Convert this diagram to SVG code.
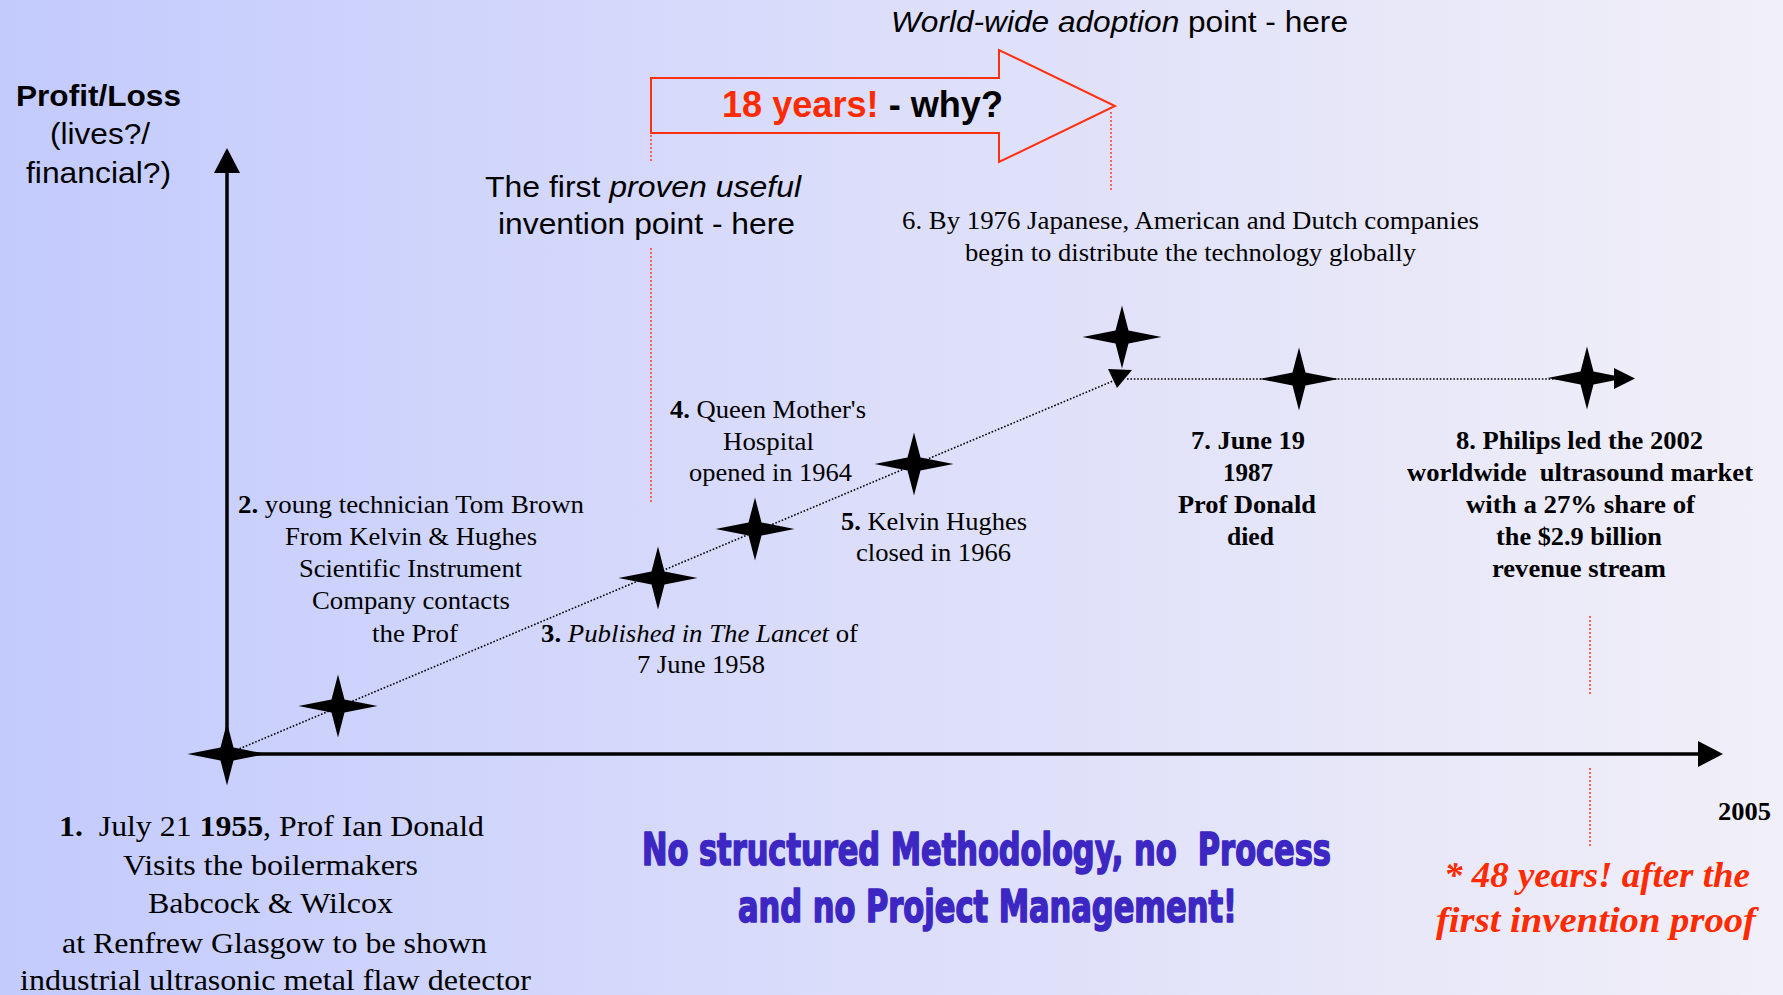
<svg xmlns="http://www.w3.org/2000/svg" width="1783" height="995" viewBox="0 0 1783 995">
  <defs>
    <linearGradient id="bg" x1="0" y1="0" x2="1" y2="0">
      <stop offset="0" stop-color="#c3cbfd"/>
      <stop offset="0.5" stop-color="#dcdefa"/>
      <stop offset="1" stop-color="#f1eff8"/>
    </linearGradient>
    <polygon id="star" points="0,-31.5 6.5,-6.5 39.5,0 6.5,6.5 0,31.5 -6.5,6.5 -39.5,0 -6.5,-6.5"/>
  </defs>
  <style>
    .sans { font-family: "Liberation Sans", Arial, sans-serif; fill: #000; }
    .serif { font-family: "Liberation Serif", "Times New Roman", serif; fill: #000; }
    .impact { font-family: "DejaVu Sans Condensed", "DejaVu Sans", sans-serif; font-weight: bold; fill: #3d27c3; stroke: #3d27c3; stroke-width: 1.6; stroke-linejoin: round; }
    .b { font-weight: bold; }
    .i { font-style: italic; }
    .red { fill: #ff2a00; }
    .s25 { font-size: 25px; }
    .s30 { font-size: 30px; }
    .axis { stroke: #000; stroke-width: 3.5; fill: none; }
    .dots { stroke: #000; stroke-width: 1.6; stroke-dasharray: 1.6 1.8; fill: none; }
    .guide { stroke: #ff3b1f; stroke-width: 1.5; stroke-dasharray: 2 2; fill: none; }
  </style>

  <rect width="1783" height="995" fill="url(#bg)"/>

  <!-- axes -->
  <g id="axes">
    <line class="axis" x1="227" y1="754" x2="227" y2="170"/>
    <polygon points="214,173 227,148 240,173" fill="#000"/>
    <line class="axis" x1="227" y1="754" x2="1700" y2="754"/>
    <polygon points="1698,741 1723,754 1698,767" fill="#000"/>
    <text class="sans b" font-size="29" x="16" y="106" textLength="165" lengthAdjust="spacingAndGlyphs">Profit/Loss</text>
    <text class="sans" font-size="29" x="50" y="144" textLength="100" lengthAdjust="spacingAndGlyphs">(lives?/</text>
    <text class="sans" font-size="29" x="26" y="183" textLength="145" lengthAdjust="spacingAndGlyphs">financial?)</text>
    <text class="serif b s25" x="1718" y="820" textLength="53" lengthAdjust="spacingAndGlyphs">2005</text>
  </g>

  <!-- connectors -->
  <g id="connectors">
    <line class="dots" x1="227" y1="754" x2="1113" y2="381"/>
    <polygon points="1108,369 1132,370 1117,388" fill="#000"/>
    <line class="dots" x1="1127" y1="379" x2="1614" y2="379"/>
    <polygon points="1614,368 1635,378.5 1614,389" fill="#000"/>
    <line class="guide" x1="651" y1="135" x2="651" y2="162"/>
    <line class="guide" x1="651" y1="248" x2="651" y2="503"/>
    <line class="guide" x1="1111" y1="112" x2="1111" y2="192"/>
    <line class="guide" x1="1590" y1="616" x2="1590" y2="695"/>
    <line class="guide" x1="1590" y1="768" x2="1590" y2="847"/>
  </g>

  <!-- 18-year gap arrow -->
  <g id="gap-arrow">
    <polygon points="651,78 999,78 999,50 1115,106 999,162 999,133 651,133" fill="none" stroke="#ff3010" stroke-width="2"/>
    <text class="sans b" font-size="36" x="722" y="117" textLength="281" lengthAdjust="spacingAndGlyphs"><tspan class="red">18 years!</tspan> - why?</text>
  </g>

  <g id="adoption-note">
    <text class="sans" font-size="29" x="891" y="32" textLength="457" lengthAdjust="spacingAndGlyphs"><tspan class="i">World-wide adoption</tspan> point - here</text>
  </g>

  <g id="invention-note">
    <text class="sans" font-size="30" x="485" y="197" textLength="316" lengthAdjust="spacingAndGlyphs">The first <tspan class="i">proven useful</tspan></text>
    <text class="sans" font-size="30" x="498" y="234" textLength="297" lengthAdjust="spacingAndGlyphs">invention point - here</text>
  </g>

  <!-- events -->
  <g id="event-1">
    <use href="#star" x="227" y="754"/>
    <text class="serif s30" x="59" y="836" textLength="425" lengthAdjust="spacingAndGlyphs"><tspan class="b">1.</tspan>&#160; July 21 <tspan class="b">1955</tspan>, Prof Ian Donald</text>
    <text class="serif s30" x="123" y="875" textLength="295" lengthAdjust="spacingAndGlyphs">Visits the boilermakers</text>
    <text class="serif s30" x="148" y="913" textLength="245" lengthAdjust="spacingAndGlyphs">Babcock &amp; Wilcox</text>
    <text class="serif s30" x="62" y="953" textLength="425" lengthAdjust="spacingAndGlyphs">at Renfrew Glasgow to be shown</text>
    <text class="serif s30" x="20" y="990" textLength="511" lengthAdjust="spacingAndGlyphs">industrial ultrasonic metal flaw detector</text>
  </g>

  <g id="event-2">
    <use href="#star" x="338" y="706"/>
    <text class="serif s25" x="238" y="513" textLength="346" lengthAdjust="spacingAndGlyphs"><tspan class="b">2.</tspan> young technician Tom Brown</text>
    <text class="serif s25" x="285" y="545" textLength="252" lengthAdjust="spacingAndGlyphs">From Kelvin &amp; Hughes</text>
    <text class="serif s25" x="299" y="577" textLength="223" lengthAdjust="spacingAndGlyphs">Scientific Instrument</text>
    <text class="serif s25" x="312" y="609" textLength="198" lengthAdjust="spacingAndGlyphs">Company contacts</text>
    <text class="serif s25" x="372" y="642" textLength="86" lengthAdjust="spacingAndGlyphs">the Prof</text>
  </g>

  <g id="event-3">
    <use href="#star" x="658" y="578"/>
    <text class="serif s25" x="541" y="642" textLength="317" lengthAdjust="spacingAndGlyphs"><tspan class="b">3.</tspan> <tspan class="i">Published in The Lancet</tspan> of</text>
    <text class="serif s25" x="637" y="673" textLength="128" lengthAdjust="spacingAndGlyphs">7 June 1958</text>
  </g>

  <g id="event-4">
    <use href="#star" x="755" y="529"/>
    <text class="serif s25" x="670" y="418" textLength="196" lengthAdjust="spacingAndGlyphs"><tspan class="b">4.</tspan> Queen Mother's</text>
    <text class="serif s25" x="723" y="450" textLength="91" lengthAdjust="spacingAndGlyphs">Hospital</text>
    <text class="serif s25" x="689" y="481" textLength="163" lengthAdjust="spacingAndGlyphs">opened in 1964</text>
  </g>

  <g id="event-5">
    <use href="#star" x="914" y="464"/>
    <text class="serif s25" x="841" y="530" textLength="186" lengthAdjust="spacingAndGlyphs"><tspan class="b">5.</tspan> Kelvin Hughes</text>
    <text class="serif s25" x="856" y="561" textLength="155" lengthAdjust="spacingAndGlyphs">closed in 1966</text>
  </g>

  <g id="event-6">
    <use href="#star" x="1122" y="337"/>
    <text class="serif s25" x="902" y="229" textLength="577" lengthAdjust="spacingAndGlyphs">6. By 1976 Japanese, American and Dutch companies</text>
    <text class="serif s25" x="965" y="261" textLength="451" lengthAdjust="spacingAndGlyphs">begin to distribute the technology globally</text>
  </g>

  <g id="event-7">
    <use href="#star" x="1299" y="379"/>
    <text class="serif b s25" x="1191" y="449" textLength="114" lengthAdjust="spacingAndGlyphs">7. June 19</text>
    <text class="serif b s25" x="1223" y="481" textLength="50" lengthAdjust="spacingAndGlyphs">1987</text>
    <text class="serif b s25" x="1178" y="513" textLength="138" lengthAdjust="spacingAndGlyphs">Prof Donald</text>
    <text class="serif b s25" x="1227" y="545" textLength="47" lengthAdjust="spacingAndGlyphs">died</text>
  </g>

  <g id="event-8">
    <use href="#star" x="1587" y="378"/>
    <text class="serif b s25" x="1456" y="449" textLength="247" lengthAdjust="spacingAndGlyphs">8. Philips led the 2002</text>
    <text class="serif b s25" x="1407" y="481" textLength="346" lengthAdjust="spacingAndGlyphs">worldwide&#160; ultrasound market</text>
    <text class="serif b s25" x="1466" y="513" textLength="229" lengthAdjust="spacingAndGlyphs">with a 27% share of</text>
    <text class="serif b s25" x="1496" y="545" textLength="166" lengthAdjust="spacingAndGlyphs">the $2.9 billion</text>
    <text class="serif b s25" x="1492" y="577" textLength="174" lengthAdjust="spacingAndGlyphs">revenue stream</text>
  </g>

  <g id="span-note">
    <text class="serif b i red" font-size="35" x="1444" y="887" textLength="306" lengthAdjust="spacingAndGlyphs">* 48 years! after the</text>
    <text class="serif b i red" font-size="35" x="1436" y="932" textLength="320" lengthAdjust="spacingAndGlyphs">first invention proof</text>
  </g>

  <g id="conclusion">
    <text class="impact" font-size="44" x="642" y="865" textLength="689" lengthAdjust="spacingAndGlyphs">No structured Methodology, no&#160; Process</text>
    <text class="impact" font-size="44" x="738" y="922" textLength="499" lengthAdjust="spacingAndGlyphs">and no Project Management!</text>
  </g>
</svg>
